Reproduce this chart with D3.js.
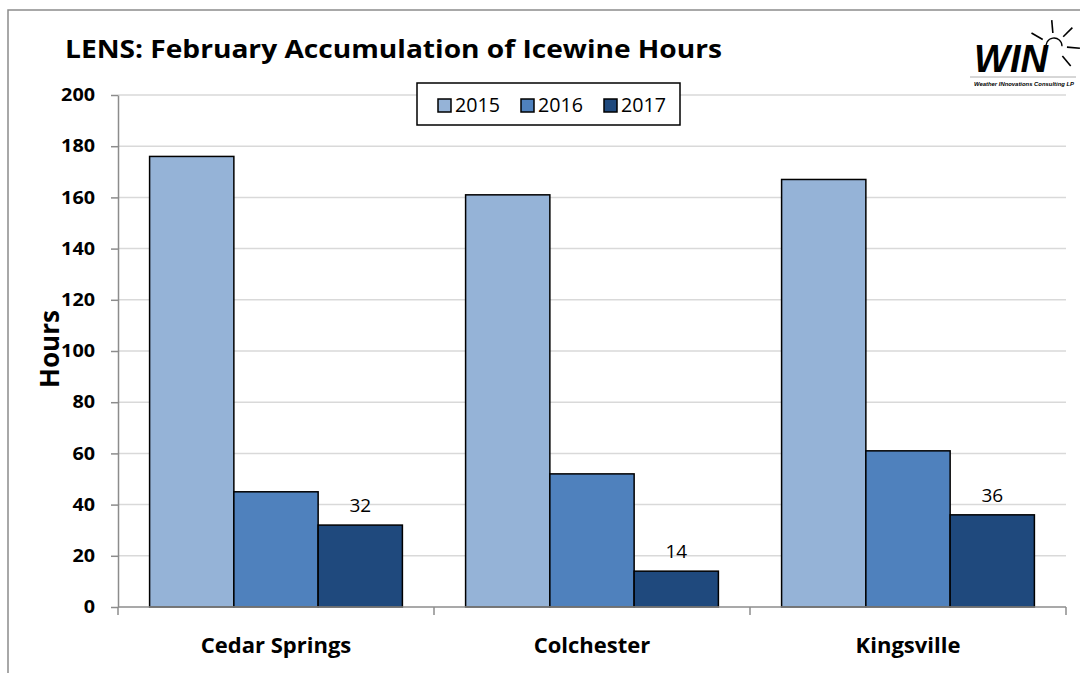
<!DOCTYPE html>
<html><head><meta charset="utf-8">
<script src="https://cdn.jsdelivr.net/npm/d3@7"></script>
<style>html,body{margin:0;padding:0;background:#fff;}svg{display:block;}</style>
</head><body>
<svg id="c" width="1080" height="673"></svg>
<script>
const categories = ["Cedar Springs", "Colchester", "Kingsville"];
const seriesNames = ["2015", "2016", "2017"];
const values2015 = [176, 161, 167];
const values2016 = [45, 52, 61];
const values2017 = [32, 14, 36];
const yTicks = [0, 20, 40, 60, 80, 100, 120, 140, 160, 180, 200];
const colors = ["#95B3D7", "#4F81BD", "#1F497D"];

const series = [values2015, values2016, values2017];
const svg = d3.select("#c");
const font = "'Open Sans', Lato, sans-serif";

// outer border
svg.append("path").attr("d", "M8,673 V10 H1080").attr("fill", "none")
  .attr("stroke", "#8c8c8c").attr("stroke-width", 1.5);

const x0 = 118, x1 = 1066, yTop = 95, yBot = 607;
const x = d3.scaleBand().domain(categories).range([x0, x1]).paddingInner(0.2).paddingOuter(0.1);
const xs = d3.scaleBand().domain(seriesNames).range([0, x.bandwidth()]);
const y = d3.scaleLinear().domain([0, 200]).range([yBot, yTop]);

// gridlines
svg.append("g").selectAll("line").data(yTicks.filter(d => d > 0)).join("line")
  .attr("x1", x0).attr("x2", x1).attr("y1", d => y(d)).attr("y2", d => y(d))
  .attr("stroke", "#d9d9d9").attr("stroke-width", 1.5);

// y axis
const yAxis = svg.append("g").attr("transform", `translate(${x0},0)`)
  .call(d3.axisLeft(y).tickValues(yTicks).tickSize(7).tickPadding(16).tickSizeOuter(0));
yAxis.select(".domain").attr("stroke", "#8c8c8c").attr("stroke-width", 1.5);
yAxis.selectAll(".tick line").attr("stroke", "#8c8c8c").attr("stroke-width", 1.5);
yAxis.selectAll(".tick text").attr("font-family", font).attr("font-weight", "bold")
  .attr("font-size", 18).attr("fill", "#000")
  .attr("textLength", d => String(d).length * 11.3).attr("lengthAdjust", "spacingAndGlyphs");

// bars
const groups = svg.append("g").selectAll("g").data(categories).join("g")
  .attr("transform", d => `translate(${x(d)},0)`);
groups.selectAll("rect").data((c, i) => series.map((s, j) => ({k: seriesNames[j], v: s[i], j})))
  .join("rect")
  .attr("x", d => xs(d.k)).attr("width", xs.bandwidth())
  .attr("y", d => y(d.v)).attr("height", d => y(0) - y(d.v))
  .attr("fill", d => colors[d.j]).attr("stroke", "#000").attr("stroke-width", 1.5);

// data labels on 2017
groups.append("text")
  .datum((c, i) => values2017[i])
  .attr("x", xs("2017") + xs.bandwidth() / 2)
  .attr("y", d => y(d) - 13)
  .attr("text-anchor", "middle").attr("font-family", font).attr("font-size", 19)
  .text(d => d);

// x axis
const xAxisLine = svg.append("g");
xAxisLine.append("line").attr("x1", x0).attr("x2", x1).attr("y1", yBot).attr("y2", yBot)
  .attr("stroke", "#8c8c8c").attr("stroke-width", 1.5);
const bounds = [x0].concat(categories.map(c => x(c) + x.bandwidth() + x.step() * x.paddingInner() / 2));
bounds[bounds.length - 1] = x1;
xAxisLine.selectAll("line.t").data(bounds).join("line").attr("class", "t")
  .attr("x1", d => d).attr("x2", d => d).attr("y1", yBot).attr("y2", yBot + 8)
  .attr("stroke", "#8c8c8c").attr("stroke-width", 1.5);
svg.append("g").selectAll("text").data(categories).join("text")
  .attr("x", d => x(d) + x.bandwidth() / 2).attr("y", 653)
  .attr("text-anchor", "middle").attr("font-family", font).attr("font-weight", "bold")
  .attr("font-size", 22).text(d => d);

// y title
svg.append("text").attr("transform", "translate(59,349) rotate(-90)")
  .attr("text-anchor", "middle").attr("font-family", font).attr("font-weight", "bold")
  .attr("font-size", 27).attr("textLength", 78).attr("lengthAdjust", "spacingAndGlyphs").text("Hours");

// chart title
svg.append("text").attr("x", 65).attr("y", 58).attr("font-family", font)
  .attr("font-weight", "bold").attr("font-size", 25)
  .attr("textLength", 657).attr("lengthAdjust", "spacingAndGlyphs")
  .text("LENS: February Accumulation of Icewine Hours");

// legend
const lg = svg.append("g");
lg.append("rect").attr("x", 417).attr("y", 83).attr("width", 263).attr("height", 42)
  .attr("fill", "#fff").attr("stroke", "#000").attr("stroke-width", 1.5);
const legendX = [438, 521, 604];
seriesNames.forEach((s, i) => {
  lg.append("rect").attr("x", legendX[i]).attr("y", 99).attr("width", 13).attr("height", 13)
    .attr("fill", colors[i]).attr("stroke", "#000").attr("stroke-width", 1.5);
  lg.append("text").attr("x", legendX[i] + 17).attr("y", 112).attr("font-family", font)
    .attr("font-size", 20).attr("textLength", 45).attr("lengthAdjust", "spacingAndGlyphs").text(s);
});

// logo
const logo = svg.append("g");
logo.append("text").attr("x", 974).attr("y", 72).attr("font-family", "'Liberation Sans', Arial, sans-serif")
  .attr("font-weight", "bold").attr("font-style", "italic").attr("font-size", 38)
  .attr("textLength", 74).attr("lengthAdjust", "spacingAndGlyphs").text("WIN");
const sc = [1054, 46];
logo.append("path").attr("d", d3.arc()({innerRadius: 8, outerRadius: 8, startAngle: -1.9, endAngle: 1.6}))
  .attr("transform", `translate(${sc[0]},${sc[1]})`)
  .attr("fill", "none").attr("stroke", "#000").attr("stroke-width", 1.3);
const rayAngles = [-150, -95, -45, 5, 50];
logo.selectAll("line.ray").data(rayAngles).join("line").attr("class", "ray")
  .attr("x1", a => sc[0] + 13 * Math.cos(a * Math.PI / 180)).attr("y1", a => sc[1] + 13 * Math.sin(a * Math.PI / 180))
  .attr("x2", a => sc[0] + 26 * Math.cos(a * Math.PI / 180)).attr("y2", a => sc[1] + 26 * Math.sin(a * Math.PI / 180))
  .attr("stroke", "#000").attr("stroke-width", 1.6);
logo.append("line").attr("x1", 970).attr("x2", 1076).attr("y1", 77).attr("y2", 77)
  .attr("stroke", "#999").attr("stroke-width", 0.8);
logo.append("text").attr("x", 1024).attr("y", 86).attr("text-anchor", "middle")
  .attr("font-family", "'Liberation Sans', Arial, sans-serif").attr("font-weight", "bold")
  .attr("font-style", "italic").attr("font-size", 5.5).attr("textLength", 100)
  .attr("lengthAdjust", "spacingAndGlyphs").text("Weather INnovations Consulting LP");
</script>
</body></html>
